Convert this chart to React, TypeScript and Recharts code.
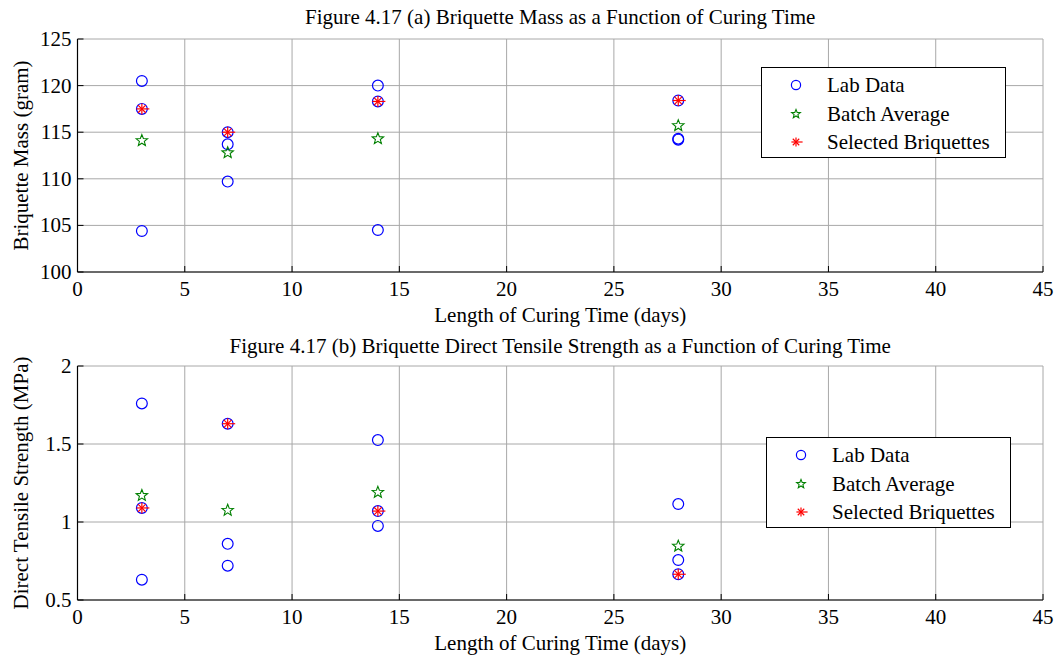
import { ScatterChart, Scatter, XAxis, YAxis, CartesianGrid, Label } from 'recharts';

// batches, three lab samples per batch
const curingDays = [3, 7, 14, 28];
const labDays = [3, 3, 3, 7, 7, 7, 14, 14, 14, 28, 28, 28];
const xTicks = [0, 5, 10, 15, 20, 25, 30, 35, 40, 45];

const massLab = [120.5, 117.5, 104.4, 115.0, 113.7, 109.7, 120.0, 118.3, 104.5, 118.4, 114.3, 114.2];
const massAvg = [114.1, 112.8, 114.3, 115.7];
const massSel = [117.5, 115.0, 118.3, 118.4];
const massTicks = [100, 105, 110, 115, 120, 125];

const strengthLab = [1.76, 1.09, 0.63, 1.63, 0.86, 0.72, 1.525, 1.07, 0.975, 1.115, 0.756, 0.665];
const strengthAvg = [1.17, 1.075, 1.19, 0.845];
const strengthSel = [1.09, 1.63, 1.07, 0.665];
const strengthTicks = [0.5, 1, 1.5, 2];

const legendNames = ['Lab Data', 'Batch Average', 'Selected Briquettes'];

const FONT = '"Liberation Serif", "Times New Roman", serif';
const BLUE = '#0000ff';
const GREEN = '#008000';
const RED = '#ff0000';

const toPoints = (xs: number[], ys: number[]) => ys.map((y, i) => ({ x: xs[i], y }));

const CircleMark = ({ cx, cy, r = 5.4 }: any) => (
    <circle cx={cx} cy={cy} r={r} fill='none' stroke={BLUE} strokeWidth={1.2} />
);

const StarMark = ({ cx, cy, r = 6 }: any) => {
    const pts = [];
    for (let i = 0; i < 10; i++) {
        const rr = i % 2 === 0 ? r : r * 0.43;
        const a = -Math.PI / 2 + (i * Math.PI) / 5;
        pts.push(`${cx + rr * Math.cos(a)},${cy + rr * Math.sin(a)}`);
    }
    return <polygon points={pts.join(' ')} fill='none' stroke={GREEN} strokeWidth={1.1} />;
};

const AsteriskMark = ({ cx, cy, r = 5.5 }: any) => {
    const d = r * 0.7;
    return (
        <g stroke={RED} strokeWidth={1.2}>
            <line x1={cx - r} y1={cy} x2={cx + r + 2} y2={cy} />
            <line x1={cx} y1={cy - r} x2={cx} y2={cy + r} />
            <line x1={cx - d} y1={cy - d} x2={cx + d} y2={cy + d} />
            <line x1={cx - d} y1={cy + d} x2={cx + d} y2={cy - d} />
        </g>
    );
};

const BottomTick = ({ x, y, payload }: any) => (
    <g>
        <line x1={x} y1={y} x2={x} y2={y - 6} stroke='#000' />
        <text x={x} y={y + 24} textAnchor='middle' fontFamily={FONT} fontSize={21} fill='#000'>
            {payload.value}
        </text>
    </g>
);

const LeftTick = ({ x, y, payload }: any) => (
    <g>
        <line x1={x} y1={y} x2={x + 6} y2={y} stroke='#000' />
        <text x={x - 6} y={y + 7} textAnchor='end' fontFamily={FONT} fontSize={21} fill='#000'>
            {payload.value}
        </text>
    </g>
);

const TopTick = ({ x, y }: any) => <line x1={x} y1={y} x2={x} y2={y + 6} stroke='#000' />;
const RightTick = ({ x, y }: any) => <line x1={x} y1={y} x2={x - 6} y2={y} stroke='#000' />;

const LegendBox = ({ left, top }: { left: number, top: number }) => {
    const marks = [CircleMark, StarMark, AsteriskMark];
    return (
        <div style={{
            position: 'absolute', left, top, width: 243, height: 89,
            border: '1.5px solid #000', background: '#fff', fontFamily: FONT, fontSize: 21, lineHeight: '28px',
        }}>
            {legendNames.map((name, i) => {
                const Mark = marks[i];
                return (
                    <div key={name} style={{ position: 'absolute', left: 0, top: 3 + i * 28.5, height: 28, display: 'flex', alignItems: 'center', whiteSpace: 'nowrap' }}>
                        <svg width={60} height={28}><Mark cx={34} cy={14} r={4.6} /></svg>
                        <span style={{ marginLeft: 5 }}>{name}</span>
                    </div>
                );
            })}
        </div>
    );
};

type PanelProps = {
    title: string,
    yLabel: string,
    lab: number[],
    avg: number[],
    sel: number[],
    yTicks: number[],
    top: number,
    height: number,
    marginTop: number,
    marginBottom: number,
    titleTop: number,
    legendLeft: number,
    legendTop: number,
};

const Panel = (p: PanelProps) => {
    const yDomain = [p.yTicks[0], p.yTicks[p.yTicks.length - 1]];
    return (
        <div style={{ position: 'absolute', left: 0, top: p.top, width: 1061, height: p.height }}>
            <div style={{
                position: 'absolute', left: 77.5, width: 965.5, top: p.titleTop, textAlign: 'center',
                fontFamily: FONT, fontSize: 21, lineHeight: '24px', color: '#000', whiteSpace: 'nowrap',
            }}>{p.title}</div>
            <ScatterChart width={1061} height={p.height}
                margin={{ top: p.marginTop, right: 18, left: 0, bottom: 0 }}>
                <CartesianGrid stroke='#a8a8a8' strokeWidth={1} />
                <XAxis type='number' dataKey='x' domain={[0, 45]} ticks={xTicks} interval={0}
                    tickSize={0} tickMargin={0} tick={<BottomTick />} tickLine={false}
                    axisLine={{ stroke: '#000', strokeWidth: 1.2 }} height={p.marginBottom}>
                    <Label content={({ viewBox }: any) => (
                        <text x={viewBox.x + viewBox.width / 2} y={viewBox.y + 50} textAnchor='middle'
                            fontFamily={FONT} fontSize={21} fill='#000'>Length of Curing Time (days)</text>
                    )} />
                </XAxis>
                <XAxis xAxisId='top' orientation='top' type='number' dataKey='x' domain={[0, 45]} ticks={xTicks}
                    interval={0} tickSize={0} tickMargin={0} tick={<TopTick />} tickLine={false}
                    axisLine={{ stroke: '#000', strokeWidth: 1.2 }} height={0} />
                <YAxis type='number' dataKey='y' domain={yDomain} ticks={p.yTicks} interval={0}
                    tickSize={0} tickMargin={0} tick={<LeftTick />} tickLine={false} width={77.5}
                    axisLine={{ stroke: '#000', strokeWidth: 1.2 }}>
                    <Label content={({ viewBox }: any) => {
                        const cy = viewBox.y + viewBox.height / 2;
                        return (
                            <text x={28} y={cy} transform={`rotate(-90 28 ${cy})`} textAnchor='middle'
                                fontFamily={FONT} fontSize={21} fill='#000'>{p.yLabel}</text>
                        );
                    }} />
                </YAxis>
                <YAxis yAxisId='right' orientation='right' type='number' dataKey='y' domain={yDomain}
                    ticks={p.yTicks} interval={0} tickSize={0} tickMargin={0} tick={<RightTick />}
                    tickLine={false} width={0} axisLine={{ stroke: '#000', strokeWidth: 1.2 }} />
                <Scatter name='Lab Data' data={toPoints(labDays, p.lab)} shape={<CircleMark />} isAnimationActive={false} />
                <Scatter name='Batch Average' data={toPoints(curingDays, p.avg)} shape={<StarMark />} isAnimationActive={false} />
                <Scatter name='Selected Briquettes' data={toPoints(curingDays, p.sel)} shape={<AsteriskMark />} isAnimationActive={false} />
            </ScatterChart>
            <LegendBox left={p.legendLeft} top={p.legendTop - p.top} />
        </div>
    );
};

export default function App() {
    return (
        <div style={{ position: 'absolute', left: 0, top: 0, width: 1061, height: 666, background: '#fff' }}>
            <Panel title='Figure 4.17 (a) Briquette Mass as a Function of Curing Time'
                yLabel='Briquette Mass (gram)' lab={massLab} avg={massAvg} sel={massSel} yTicks={massTicks}
                top={0} height={330} marginTop={39} marginBottom={58} titleTop={5}
                legendLeft={761} legendTop={67} />
            <Panel title='Figure 4.17 (b) Briquette Direct Tensile Strength as a Function of Curing Time'
                yLabel='Direct Tensile Strength (MPa)' lab={strengthLab} avg={strengthAvg} sel={strengthSel}
                yTicks={strengthTicks} top={330} height={336} marginTop={36} marginBottom={66} titleTop={4}
                legendLeft={766} legendTop={437} />
        </div>
    );
}
